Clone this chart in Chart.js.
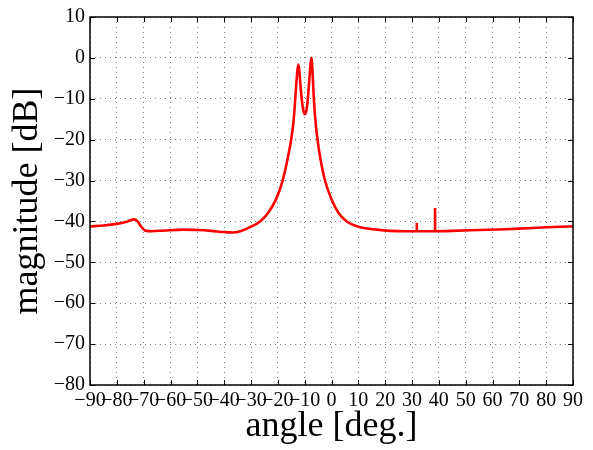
<!DOCTYPE html>
<html>
<head>
<meta charset="utf-8">
<script src="https://cdn.jsdelivr.net/npm/chart.js@4"></script>
<style>
  html, body { margin: 0; padding: 0; background: #fff; }
  #wrap { width: 593px; height: 450px; }
</style>
</head>
<body>
<div id="wrap"><canvas id="chart" width="593" height="450"></canvas></div>
<script>
// angle [deg.] and magnitude [dB]
const angles = [
  -90, -85, -80, -76, -73.5, -72.5, -71, -69.5, -67, -62, -55, -50, -45, -40, -37,
  -34, -30.4, -26.6, -23.5, -20.7, -18.2, -16.3, -14.8, -14.2, -13.8, -13.3, -12.9, -12.4,
  -12.0, -11.6, -11.1, -10.6, -10, -9.4, -8.9, -8.4, -8.0, -7.6, -7.4, -7.1, -6.7,
  -6.1, -5.3, -4.1, -2.5, 0, 2.5, 5.7, 10.7, 16.9, 21.8, 28, 35,
  45, 55, 65, 75, 85, 90
];
const magnitude = [
  -41.2, -41.0, -40.6, -40.0, -39.5, -39.8, -41.2, -42.2, -42.4, -42.2, -42.0, -42.1, -42.3, -42.6, -42.7,
  -42.4, -41.4, -40.0, -37.8, -34.6, -30.0, -24.5, -19.0, -15.8, -12.8, -8, -4.5, -1.6,
  -3, -6.5, -10, -12.5, -13.8, -13.0, -10.5, -6.5, -3, -0.5, 0, -3, -8.5,
  -14.5, -19.5, -24.8, -29.8, -34.6, -37.8, -40.0, -41.4, -42.0, -42.3, -42.4, -42.4,
  -42.3, -42.1, -41.9, -41.6, -41.3, -41.2
];
// two narrow spikes sitting on the floor
const spikeAngles = [31.8, 38.6];
const spikeTops = [-40.4, -36.7];
const spikeBase = -42.4;

const xTicks = [-90, -80, -70, -60, -50, -40, -30, -20, -10, 0, 10, 20, 30, 40, 50, 60, 70, 80, 90];
const yTicks = [-80, -70, -60, -50, -40, -30, -20, -10, 0, 10];

const points = angles.map((a, i) => ({ x: a, y: magnitude[i] }));
const spikePoints = [];
spikeAngles.forEach((a, i) => {
  spikePoints.push({ x: a, y: spikeBase }, { x: a, y: spikeTops[i] }, { x: a, y: null });
});

const serif = "'Liberation Serif', 'Times New Roman', serif";
const fmt = v => String(v).replace('-', '\u2212');

// box round the plot with inward tick marks, like matlab
const frame = {
  id: 'frame',
  afterDraw(chart) {
    const { ctx, chartArea: a, scales } = chart;
    const len = 5;
    ctx.save();
    ctx.strokeStyle = '#000';
    ctx.lineWidth = 1;
    ctx.beginPath();
    xTicks.forEach(v => {
      const px = Math.round(scales.x.getPixelForValue(v)) + 0.5;
      ctx.moveTo(px, a.bottom); ctx.lineTo(px, a.bottom - len);
      ctx.moveTo(px, a.top); ctx.lineTo(px, a.top + len);
    });
    yTicks.forEach(v => {
      const py = Math.round(scales.y.getPixelForValue(v)) + 0.5;
      ctx.moveTo(a.left, py); ctx.lineTo(a.left + len, py);
      ctx.moveTo(a.right, py); ctx.lineTo(a.right - len, py);
    });
    ctx.stroke();
    ctx.lineWidth = 1.5;
    ctx.strokeRect(a.left, a.top, a.right - a.left, a.bottom - a.top);
    ctx.restore();
  }
};

new Chart(document.getElementById('chart'), {
  type: 'line',
  data: {
    datasets: [{
      data: points,
      borderColor: '#ff0000',
      borderWidth: 2.6,
      pointRadius: 0,
      cubicInterpolationMode: 'monotone',
      fill: false
    }, {
      data: spikePoints,
      borderColor: '#ff0000',
      borderWidth: 2.6,
      pointRadius: 0,
      tension: 0,
      spanGaps: false,
      fill: false
    }]
  },
  options: {
    responsive: false,
    animation: false,
    layout: { padding: { top: 12, right: 20, left: 0, bottom: 0 } },
    plugins: { legend: { display: false }, tooltip: { enabled: false } },
    scales: {
      x: {
        type: 'linear',
        min: -90,
        max: 90,
        afterBuildTicks: s => { s.ticks = xTicks.map(v => ({ value: v })); },
        afterFit: s => { s.height = 65; },
        ticks: {
          autoSkip: false,
          maxRotation: 0,
          padding: 4,
          color: '#000',
          font: { family: serif, size: 20 },
          callback: fmt
        },
        grid: {
          color: 'rgba(0,0,0,0.5)',
          lineWidth: 1,
          drawTicks: false
        },
        border: { display: false, dash: [1, 4] },
        title: {
          display: true,
          text: 'angle [deg.]',
          color: '#000',
          font: { family: serif, size: 36 },
          padding: { top: 0, bottom: 2 }
        }
      },
      y: {
        min: -80,
        max: 10,
        afterBuildTicks: s => { s.ticks = yTicks.map(v => ({ value: v })); },
        afterFit: s => { s.width = 90; },
        ticks: {
          padding: 5,
          color: '#000',
          font: { family: serif, size: 20 },
          callback: fmt
        },
        grid: {
          color: 'rgba(0,0,0,0.5)',
          lineWidth: 1,
          drawTicks: false
        },
        border: { display: false, dash: [1, 4] },
        title: {
          display: true,
          text: 'magnitude [dB]',
          color: '#000',
          font: { family: serif, size: 36 },
          padding: { top: 6, bottom: 0 }
        }
      }
    }
  },
  plugins: [frame]
});
</script>
</body>
</html>
